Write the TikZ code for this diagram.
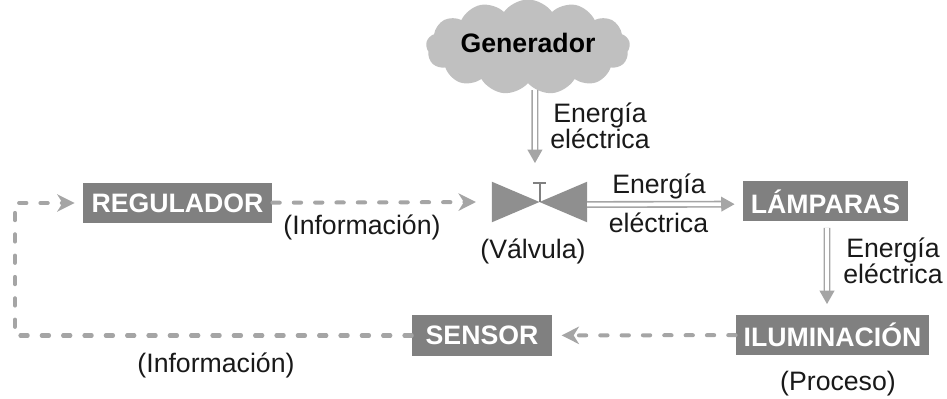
\documentclass[tikz,border=0pt]{standalone}
\usepackage{fontspec}
\setmainfont{Liberation Sans}
\usetikzlibrary{shapes.symbols, arrows.meta, positioning}
\definecolor{boxgray}{RGB}{128, 128, 128}
\definecolor{cloudgray}{RGB}{192, 192, 192}
\definecolor{linegray}{RGB}{165, 165, 165}
\definecolor{textblack}{RGB}{25, 25, 25}

\begin{document}
\begin{tikzpicture}[
    x=0.75pt, y=-0.75pt,
    every node/.style={font=\fontsize{20}{19.5}\selectfont, text=textblack, inner sep=0pt, align=center},
    box/.style={rectangle, fill=boxgray, minimum height=30pt, font=\fontsize{20}{20}\selectfont\bfseries, text=white},
    energy/.style={draw=linegray, line width=1.2pt, double=white, double distance=2.8pt, -{Triangle[length=10pt, width=11pt, fill=linegray]}},
    info/.style={draw=linegray, line width=3pt, line cap=round, dash pattern=on 5.5pt off 10.5pt, -{Stealth[length=13pt, width=13pt, inset=4pt, fill=linegray]}}
]
\useasboundingbox (0,0) rectangle (947,399);

\node[shape=cloud, cloud puffs=13, cloud puff arc=110, aspect=2.6, fill=cloudgray, minimum width=153pt, minimum height=55pt, text depth=6pt, font=\fontsize{20}{20}\selectfont\bfseries, text=black] (generador) at (528,47) {Generador};

\node[minimum width=71pt, minimum height=30pt] (valvula) at (539.5,202) {};
\node[box, minimum width=142pt] (regulador) at (177.5,203) {REGULADOR};
\node[box, minimum width=124pt] (lamparas) at (825.5,201.5) {LÁMPARAS};
\node[box, minimum width=145pt] (iluminacion) at (832.5,335) {ILUMINACIÓN};
\node[box, minimum width=105pt] (sensor) at (482,335.5) {SENSOR};
\coordinate (esquina) at (15,335.5);

% valve symbol
\fill[boxgray!88] (valvula.north west) -- (valvula.south west) -- (valvula.center) -- cycle;
\fill[boxgray!88] (valvula.north east) -- (valvula.south east) -- (valvula.center) -- cycle;
\draw[boxgray, line width=1.5pt] (valvula.center) -- ([yshift=-1pt]valvula.north);
\draw[boxgray, line width=1.5pt] ([xshift=-5pt,yshift=-1pt]valvula.north) -- ([xshift=5pt,yshift=-1pt]valvula.north);

\node (lblenergia) at (600,126) {Energía\\eléctrica};
\node (lblenergiab) at (659,186) {Energía};
\node (lbleletrica) at (658.5,223) {eléctrica};
\node (lblenergiac) at (893,261) {Energía\\eléctrica};
\node (lblvalvula) at (533,251) {(Válvula)};
\node (lblinfoa) at (362,227) {(Información)};
\node (lblinfob) at (216,365) {(Información)};
\node (lblproceso) at (838,384) {(Proceso)};

\draw[energy, shorten <=5pt, shorten >=14pt] ([xshift=5.2pt]generador.south) -- ([xshift=-3.4pt]valvula.north);
\draw[energy] ([yshift=-1.9pt]valvula.east) -- ([yshift=-2pt, xshift=-6pt]lamparas.west);
\draw[energy, shorten <=4.5pt, shorten >=8pt] ([xshift=1.1pt]lamparas.south) -- ([xshift=-4.1pt]iluminacion.north);

\draw[info, shorten >=12pt] (regulador) -- (valvula.west);
\draw[info, shorten >=7pt] (iluminacion) -- (sensor);
\draw[info, shorten >=6pt] (sensor) -- (esquina) |- (regulador);

\end{tikzpicture}
\end{document}
